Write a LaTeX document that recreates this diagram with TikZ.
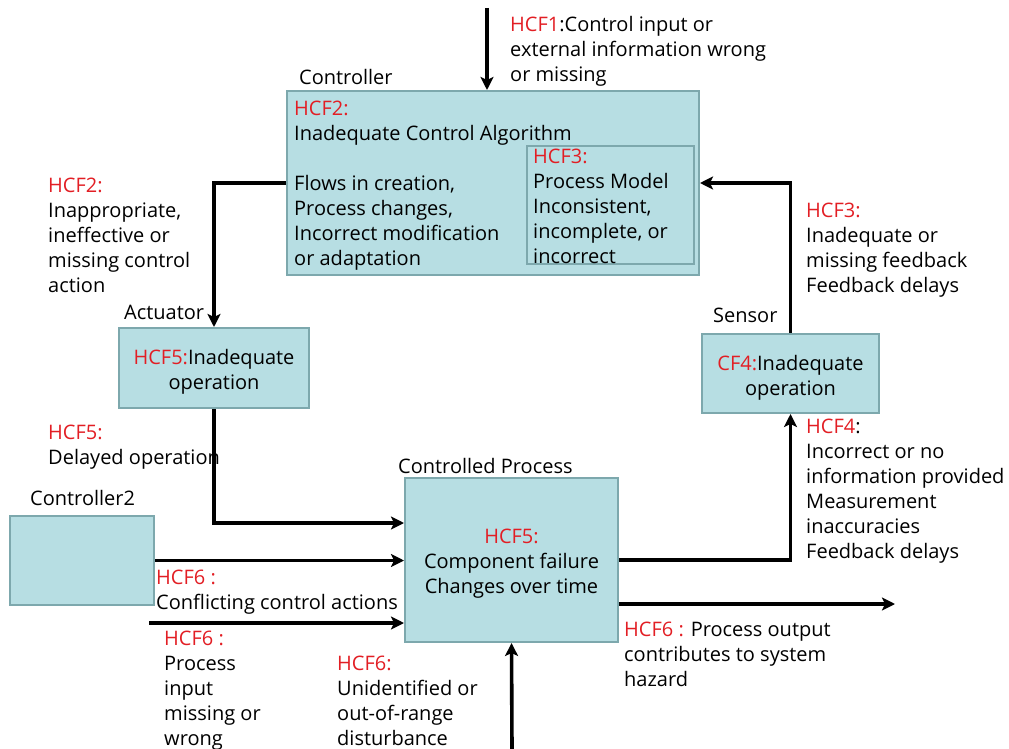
\documentclass[tikz,border=0pt]{standalone}
\usepackage{fontspec}
\setmainfont{Open Sans}
\usetikzlibrary{arrows.meta}
\definecolor{boxfill}{RGB}{183,222,227}
\definecolor{boxline}{RGB}{125,168,173}
\definecolor{hcf}{RGB}{226,30,36}
\newcommand\txt{\fontsize{20}{25}\selectfont}
\newcommand\hr[1]{\textcolor{hcf}{#1}}
\tikzset{
  box/.style={draw=boxline, fill=boxfill, line width=2pt, inner sep=0pt},
  frame/.style={draw=boxline, line width=2pt, inner sep=0pt},
  boxtext/.style={inner sep=0pt, align=center, font=\txt, yshift=-4pt},
  wire/.style={line width=3.6pt, -{Stealth[length=13pt,width=13pt,inset=3pt]}},
  lbl/.style={anchor=north west, inner sep=0pt, align=left, font=\txt, yshift=-2pt},
}
\begin{document}
\begin{tikzpicture}[x=1pt,y=-1pt]
\useasboundingbox (0,0) rectangle (1009,749);
% boxes
\node[box, minimum width=412pt, minimum height=184pt] (ctrl) at (493,183) {};
\node[frame, minimum width=167pt, minimum height=118pt] (pm) at (610.5,205) {};
\node[box, minimum width=190pt, minimum height=80pt] (act) at (214,368) {};
\node[box, minimum width=177pt, minimum height=79pt] (sens) at (790.5,373.5) {};
\node[box, minimum width=213pt, minimum height=164pt] (proc) at (511.5,560) {};
\node[box, minimum width=144pt, minimum height=89pt] (ctrltwo) at (82,560.5) {};
% texts inside boxes
\node[boxtext] (tact) at (act.center) {\hr{HCF5:}Inadequate\\operation};
\node[boxtext] (tsens) at (sens.center) {\hr{CF4:}Inadequate\\operation};
\node[boxtext] (tproc) at (proc.center) {\hr{HCF5:}\\Component failure\\Changes over time};
% box labels
\node[lbl] (lctrl) at (299,67) {Controller};
\node[lbl] (lact) at (124,303) {Actuator};
\node[lbl] (lsens) at (713,306) {Sensor};
\node[lbl] (lproc) at (398,456) {Controlled Process};
\node[lbl] (lctwo) at (30,488) {Controller2};
% texts inside controller
\node[lbl] (tctrl) at (294,99) {\hr{HCF2:}\\Inadequate Control Algorithm\\[25pt]Flows in creation,\\Process changes,\\Incorrect modification\\or adaptation};
\node[lbl] (tpm) at (533,147) {\hr{HCF3:}\\Process Model\\Inconsistent,\\incomplete, or\\incorrect};
% annotations
\node[lbl] (thcfone) at (510,14) {\hr{HCF1}:Control input or\\external information wrong\\or missing};
\node[lbl] (thcftwo) at (48,176) {\hr{HCF2:}\\Inappropriate,\\ineffective or\\missing control\\action};
\node[lbl] (thcffive) at (48,423) {\hr{HCF5:}\\Delayed operation};
\node[lbl] (thcfthree) at (806,201) {\hr{HCF3:}\\Inadequate or\\missing feedback\\Feedback delays};
\node[lbl] (thcffour) at (806,417) {\hr{HCF4}:\\Incorrect or no\\information provided\\Measurement\\inaccuracies\\Feedback delays};
\node[lbl] (tconf) at (156,568) {\hr{HCF6 :}\\Conflicting control actions};
\node[lbl] (tinput) at (164,629) {\hr{HCF6 :}\\Process\\input\\missing or\\wrong};
\node[lbl] (tdist) at (337,654) {\hr{HCF6:}\\Unidentified or\\out-of-range\\disturbance};
\node[lbl] (tout) at (624,620) {\hr{HCF6 :} Process output\\contributes to system\\hazard};
% free ends
\coordinate (topin) at (487,8);
\coordinate (pin) at (149,623);
\coordinate (dist) at (512,749);
\coordinate (pout) at (895,604);
% connectors
\draw[wire] (topin) -- (topin |- ctrl.north);
\draw[wire] (ctrl.west |- 0,183) -| (act.north);
\draw[wire] (act.south) |- (proc.west |- 0,523);
\draw[wire] (ctrltwo.east) -- (proc.west |- ctrltwo.east);
\draw[wire] (pin) -- (proc.west |- pin);
\draw[wire] (dist) -- (proc.south);
\draw[wire] (proc.east |- 0,560) -| (sens.south);
\draw[wire] (sens.north) |- (ctrl.east |- 0,183);
\draw[wire] (proc.east |- pout) -- (pout);
\end{tikzpicture}
\end{document}
